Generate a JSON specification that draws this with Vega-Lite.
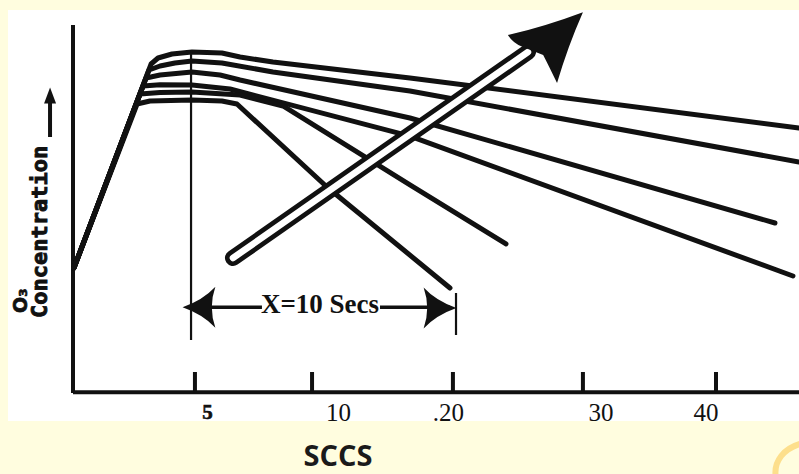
{
  "$schema": "https://vega.github.io/schema/vega-lite/v6.json",
  "width": 791,
  "height": 411,
  "autosize": {"type": "none"},
  "padding": {"left": 8, "top": 10, "right": 0, "bottom": 53},
  "background": "#fffddf",
  "config": {"view": {"fill": "white", "stroke": null}},
  "datasets": {
    "curves": [
      {"c": "A", "o": 1, "x": -7.79, "y": 32.46},
      {"c": "A", "o": 2, "x": -2.05, "y": 85.86},
      {"c": "A", "o": 3, "x": -1.53, "y": 87.43},
      {"c": "A", "o": 4, "x": -0.49, "y": 88.48},
      {"c": "A", "o": 5, "x": 1.0, "y": 89.0},
      {"c": "A", "o": 6, "x": 3.23, "y": 88.74},
      {"c": "A", "o": 7, "x": 4.58, "y": 87.7},
      {"c": "A", "o": 8, "x": 7.03, "y": 86.39},
      {"c": "A", "o": 9, "x": 17.23, "y": 82.2},
      {"c": "A", "o": 10, "x": 46.2, "y": 69.11},
      {"c": "B", "o": 1, "x": -7.79, "y": 32.46},
      {"c": "B", "o": 2, "x": -2.2, "y": 84.29},
      {"c": "B", "o": 3, "x": -1.38, "y": 85.34},
      {"c": "B", "o": 4, "x": -0.27, "y": 86.12},
      {"c": "B", "o": 5, "x": 1.0, "y": 86.65},
      {"c": "B", "o": 6, "x": 3.23, "y": 86.12},
      {"c": "B", "o": 7, "x": 7.03, "y": 83.77},
      {"c": "B", "o": 8, "x": 17.23, "y": 78.79},
      {"c": "B", "o": 9, "x": 46.2, "y": 60.21},
      {"c": "C", "o": 1, "x": -7.79, "y": 32.46},
      {"c": "C", "o": 2, "x": -2.42, "y": 82.2},
      {"c": "C", "o": 3, "x": -1.38, "y": 82.98},
      {"c": "C", "o": 4, "x": 1.0, "y": 83.77},
      {"c": "C", "o": 5, "x": 3.09, "y": 82.98},
      {"c": "C", "o": 6, "x": 4.58, "y": 81.67},
      {"c": "C", "o": 7, "x": 17.23, "y": 71.73},
      {"c": "C", "o": 8, "x": 44.41, "y": 44.24},
      {"c": "D", "o": 1, "x": -7.79, "y": 32.46},
      {"c": "D", "o": 2, "x": -2.65, "y": 80.1},
      {"c": "D", "o": 3, "x": -1.38, "y": 80.4},
      {"c": "D", "o": 4, "x": 1.0, "y": 80.37},
      {"c": "D", "o": 5, "x": 3.83, "y": 79.32},
      {"c": "D", "o": 6, "x": 17.23, "y": 67.0},
      {"c": "D", "o": 7, "x": 45.75, "y": 30.36},
      {"c": "E", "o": 1, "x": -7.79, "y": 32.46},
      {"c": "E", "o": 2, "x": -2.87, "y": 78.01},
      {"c": "E", "o": 3, "x": -1.38, "y": 78.4},
      {"c": "E", "o": 4, "x": 1.0, "y": 78.53},
      {"c": "E", "o": 5, "x": 4.58, "y": 77.75},
      {"c": "E", "o": 6, "x": 7.78, "y": 74.87},
      {"c": "E", "o": 7, "x": 17.23, "y": 54.19},
      {"c": "E", "o": 8, "x": 24.38, "y": 38.74},
      {"c": "F", "o": 1, "x": -7.79, "y": 32.46},
      {"c": "F", "o": 2, "x": -3.09, "y": 75.39},
      {"c": "F", "o": 3, "x": -2.13, "y": 76.18},
      {"c": "F", "o": 4, "x": 1.0, "y": 76.44},
      {"c": "F", "o": 5, "x": 3.23, "y": 76.18},
      {"c": "F", "o": 6, "x": 4.35, "y": 75.39},
      {"c": "F", "o": 7, "x": 11.05, "y": 53.66},
      {"c": "F", "o": 8, "x": 20.21, "y": 27.22}
    ],
    "axes": [
      {"g": "yaxis", "o": 1, "x": -7.86, "y": 96.07},
      {"g": "yaxis", "o": 2, "x": -7.86, "y": -0.26},
      {"g": "xaxis", "o": 1, "x": -7.86, "y": -0.1},
      {"g": "xaxis", "o": 2, "x": 46.2, "y": -0.1},
      {"g": "t5", "o": 1, "x": 1.22, "y": -0.1},
      {"g": "t5", "o": 2, "x": 1.22, "y": 5.23},
      {"g": "t10", "o": 1, "x": 9.94, "y": -0.1},
      {"g": "t10", "o": 2, "x": 9.94, "y": 5.23},
      {"g": "t20", "o": 1, "x": 20.43, "y": -0.1},
      {"g": "t20", "o": 2, "x": 20.43, "y": 5.23},
      {"g": "t30", "o": 1, "x": 30.11, "y": -0.1},
      {"g": "t30", "o": 2, "x": 30.11, "y": 5.23},
      {"g": "t40", "o": 1, "x": 40.02, "y": -0.1},
      {"g": "t40", "o": 2, "x": 40.02, "y": 5.23}
    ],
    "thin": [
      {"g": "v5", "o": 1, "x": 0.93, "y": 89.0},
      {"g": "v5", "o": 2, "x": 0.93, "y": 13.61},
      {"g": "bar", "o": 1, "x": 20.66, "y": 25.91},
      {"g": "bar", "o": 2, "x": 20.66, "y": 14.92}
    ],
    "dim": [
      {"g": "l", "o": 1, "x": 0.85, "y": 22.2},
      {"g": "l", "o": 2, "x": 6.21, "y": 22.2},
      {"g": "r", "o": 1, "x": 15.0, "y": 22.2},
      {"g": "r", "o": 2, "x": 20.21, "y": 22.2}
    ],
    "dimheads": [
      {"h": "left", "x": 1.52, "y": 22.2},
      {"h": "right", "x": 19.47, "y": 22.0}
    ],
    "shaft": [
      {"o": 1, "x": 4.05, "y": 35.07},
      {"o": 2, "x": 26.02, "y": 89.0}
    ],
    "bighead": [{"x": 27.29, "y": 90.31}],
    "ytarrow": [
      {"o": 1, "x": -9.57, "y": 66.75},
      {"o": 2, "x": -9.57, "y": 76.44}
    ],
    "ytarrowhead": [{"x": -9.57, "y": 77.62}],
    "ytitle": [{"x": -9.8, "y": 19.37, "text": "Concentration"}],
    "o3": [{"x": -11.29, "y": 20.67, "text": "O₃"}],
    "dimtext": [{"x": 10.53, "y": 20.67, "text": "X=10 Secs"}],
    "lab5": [{"x": 2.16, "y": -7.07, "text": "5"}],
    "labs": [
      {"x": 11.91, "y": -7.59, "text": "10"},
      {"x": 20.1, "y": -7.59, "text": ".20"},
      {"x": 31.45, "y": -7.59, "text": "30"},
      {"x": 39.27, "y": -7.59, "text": "40"}
    ],
    "xtitle": [{"x": 11.87, "y": -19.38, "text": "SCCS"}],
    "squiggle": [{"x": 45.53, "y": -17.29}]
  },
  "encoding": {
    "x": {"field": "x", "type": "quantitative", "scale": {"domain": [-12.7, 46.2], "nice": false, "zero": false}, "axis": null},
    "y": {"field": "y", "type": "quantitative", "scale": {"domain": [-7.6, 100], "nice": false, "zero": false}, "axis": null}
  },
  "layer": [
    {
      "data": {"name": "squiggle"},
      "mark": {"type": "point", "filled": false, "fill": null, "stroke": "#fddf8c", "opacity": 1, "strokeWidth": 6, "strokeCap": "round", "size": 1024,
        "shape": "M -0.9 1.1 C -1 0.2 -0.4 -0.6 0.7 -0.9"}
    },
    {
      "data": {"name": "axes"},
      "mark": {"type": "line", "color": "#111", "strokeWidth": 4, "strokeCap": "butt"},
      "encoding": {"detail": {"field": "g"}, "order": {"field": "o"}}
    },
    {
      "data": {"name": "curves"},
      "mark": {"type": "line", "color": "#111", "strokeWidth": 5, "interpolate": "linear", "strokeJoin": "round", "strokeCap": "round"},
      "encoding": {"detail": {"field": "c"}, "order": {"field": "o"}}
    },
    {
      "data": {"name": "thin"},
      "mark": {"type": "line", "color": "#111", "strokeWidth": 2.2},
      "encoding": {"detail": {"field": "g"}, "order": {"field": "o"}}
    },
    {
      "data": {"name": "dim"},
      "mark": {"type": "line", "color": "#111", "strokeWidth": 3.5},
      "encoding": {"detail": {"field": "g"}, "order": {"field": "o"}}
    },
    {
      "data": {"name": "dimheads"},
      "mark": {"type": "point", "filled": true, "color": "#111", "opacity": 1, "strokeWidth": 0, "size": 1681},
      "encoding": {
        "shape": {"field": "h", "type": "nominal", "legend": null, "scale": {"domain": ["left", "right"], "range": ["M -0.8 0 Q 0.2 -0.35 0.8 -1 Q 0.45 0 0.8 1 Q 0.2 0.35 -0.8 0 Z", "M 0.8 0 Q -0.2 -0.35 -0.8 -1 Q -0.45 0 -0.8 1 Q -0.2 0.35 0.8 0 Z"]}}
      }
    },
    {
      "data": {"name": "dimtext"},
      "mark": {"type": "text", "font": "Liberation Serif", "fontWeight": "bold", "fontSize": 27, "color": "#111", "align": "center", "baseline": "alphabetic"},
      "encoding": {"text": {"field": "text"}}
    },
    {
      "data": {"name": "shaft"},
      "mark": {"type": "line", "color": "#111", "strokeWidth": 16, "strokeCap": "round"},
      "encoding": {"order": {"field": "o"}}
    },
    {
      "data": {"name": "shaft"},
      "mark": {"type": "line", "color": "white", "strokeWidth": 6.5, "strokeCap": "round"},
      "encoding": {"order": {"field": "o"}}
    },
    {
      "data": {"name": "bighead"},
      "mark": {"type": "point", "filled": true, "color": "#111", "opacity": 1, "strokeWidth": 0, "size": 5625,
        "shape": "M 1.01 -0.93 Q 0 -0.55 -0.99 -0.32 Q -0.85 -0.1 -0.59 0 L -0.05 0.21 Q 0.1 0.5 0.32 0.96 Q 0.6 0 1.01 -0.93 Z"}
    },
    {
      "data": {"name": "ytarrow"},
      "mark": {"type": "line", "color": "#111", "strokeWidth": 4},
      "encoding": {"order": {"field": "o"}}
    },
    {
      "data": {"name": "ytarrowhead"},
      "mark": {"type": "point", "filled": true, "color": "#111", "opacity": 1, "strokeWidth": 0, "size": 256, "shape": "M 0 -1 L 0.75 1 L -0.75 1 Z"}
    },
    {
      "data": {"name": "ytitle"},
      "mark": {"type": "text", "font": "DejaVu Sans Mono", "fontWeight": "bold", "fontSize": 22, "angle": 270, "align": "left", "baseline": "alphabetic", "color": "#111", "stroke": "#111", "strokeWidth": 0.9},
      "encoding": {"text": {"field": "text"}}
    },
    {
      "data": {"name": "o3"},
      "mark": {"type": "text", "font": "DejaVu Sans", "fontWeight": "bold", "fontSize": 19, "angle": 270, "align": "left", "baseline": "alphabetic", "color": "#111", "stroke": "#111", "strokeWidth": 0.7},
      "encoding": {"text": {"field": "text"}}
    },
    {
      "data": {"name": "lab5"},
      "mark": {"type": "text", "font": "Liberation Serif", "fontWeight": "bold", "fontSize": 21, "align": "center", "baseline": "alphabetic", "color": "#111", "stroke": "#111", "strokeWidth": 0.6},
      "encoding": {"text": {"field": "text"}}
    },
    {
      "data": {"name": "labs"},
      "mark": {"type": "text", "font": "Liberation Serif", "fontSize": 25, "align": "center", "baseline": "alphabetic", "color": "#111"},
      "encoding": {"text": {"field": "text"}}
    },
    {
      "data": {"name": "xtitle"},
      "mark": {"type": "text", "font": "Open Sans", "fontWeight": "bold", "fontSize": 29, "align": "center", "baseline": "alphabetic", "color": "#1a1a1a"},
      "encoding": {"text": {"field": "text"}}
    }
  ]
}
